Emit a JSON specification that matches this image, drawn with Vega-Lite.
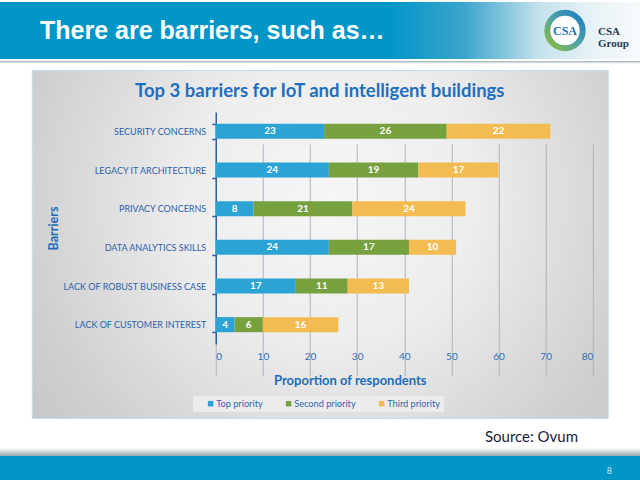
{
  "$schema": "https://vega.github.io/schema/vega-lite/v6.json",
  "padding": 0,
  "background": "#ffffff",
  "spacing": 0,
  "center": true,
  "config": {"view": {"stroke": null}, "concat": {"spacing": 0}, "font": "Lato"},
  "vconcat": [
    {
      "spacing": 0,
      "bounds": "flush",
      "hconcat": [
        {
          "width": 540,
          "height": 57,
          "view": {"stroke": null, "fill": {"gradient": "linear", "x1": 0, "y1": 0, "x2": 1, "y2": 0, "stops": [{"offset": 0, "color": "#0096c8"}, {"offset": 0.72, "color": "#0096c8"}, {"offset": 0.86, "color": "#3ba5cd"}, {"offset": 1, "color": "#c5e2ec"}]}},
          "title": {"text": "There are barriers, such as…", "anchor": "start", "frame": "group", "orient": "bottom", "offset": -20, "baseline": "alphabetic", "dx": 40, "font": "Liberation Sans", "fontSize": 25, "fontWeight": "bold", "color": "#ffffff"},
          "data": {"values": []},
          "mark": "text",
          "encoding": {}
        },
        {
          "width": 50,
          "height": 57,
          "view": {"stroke": null, "fill": {"gradient": "linear", "x1": 0, "y1": 0, "x2": 1, "y2": 0, "stops": [{"offset": 0, "color": "#c5e2ec"}, {"offset": 1, "color": "#e6f1f5"}]}},
          "data": {"values": [{"logo": "CSA"}]},
          "layer": [
            {"mark": {"type": "point", "shape": "circle", "filled": true, "fill": "#ffffff", "size": 1250, "strokeWidth": 6, "opacity": 1, "stroke": {"gradient": "linear", "x1": 0, "y1": 1, "x2": 1, "y2": 0, "stops": [{"offset": 0, "color": "#8dbb3c"}, {"offset": 0.5, "color": "#4fa3a8"}, {"offset": 1, "color": "#1c7fc0"}]}}, "encoding": {}},
            {"mark": {"type": "text", "fontSize": 12, "fontWeight": "bold", "color": "#1c6fb5", "font": "Liberation Sans Narrow"}, "encoding": {"text": {"field": "logo"}}}
          ]
        },
        {
          "width": 50,
          "height": 57,
          "view": {"stroke": null, "fill": {"gradient": "linear", "x1": 0, "y1": 0, "x2": 1, "y2": 0, "stops": [{"offset": 0, "color": "#e6f1f5"}, {"offset": 1, "color": "#f7fafb"}]}},
          "title": {"text": "CSA", "subtitle": "Group", "anchor": "start", "frame": "group", "orient": "bottom", "offset": -24, "baseline": "alphabetic", "dx": 8, "font": "Liberation Sans Narrow", "fontSize": 11, "fontWeight": "bold", "color": "#2b3a4a", "subtitleFont": "Liberation Sans Narrow", "subtitleFontSize": 11, "subtitleFontWeight": "bold", "subtitleColor": "#2b3a4a", "subtitlePadding": 1},
          "data": {"values": []},
          "mark": "text",
          "encoding": {}
        }
      ]
    },
    {
      "width": 640,
      "height": 4,
      "view": {"stroke": null, "fill": {"gradient": "linear", "x1": 0, "y1": 0, "x2": 0, "y2": 1, "stops": [{"offset": 0, "color": "#9fb0ba"}, {"offset": 0.7, "color": "#ffffff"}, {"offset": 1, "color": "#ffffff"}]}},
      "data": {"values": []},
      "mark": "text",
      "encoding": {}
    },
    {
      "width": 576,
      "height": 348,
      "view": {"stroke": "#c5dbee", "strokeWidth": 1, "fill": {"gradient": "radial", "x1": 0.52, "y1": 0.42, "r1": 0, "x2": 0.52, "y2": 0.42, "r2": 0.72, "stops": [{"offset": 0, "color": "#f6f6f6"}, {"offset": 0.35, "color": "#ededed"}, {"offset": 0.75, "color": "#cfcfcf"}, {"offset": 1, "color": "#c2c2c2"}]}},
      "title": {"text": "Top 3 barriers  for IoT and intelligent buildings", "anchor": "middle", "frame": "group", "orient": "bottom", "offset": -321, "baseline": "alphabetic", "font": "Lato", "fontSize": 18.5, "fontWeight": "bold", "color": "#1f6fc0"},
      "data": {
        "values": [
          {"barrier": "SECURITY CONCERNS", "priority": "Top priority", "rank": 1, "value": 23},
          {"barrier": "SECURITY CONCERNS", "priority": "Second priority", "rank": 2, "value": 26},
          {"barrier": "SECURITY CONCERNS", "priority": "Third priority", "rank": 3, "value": 22},
          {"barrier": "LEGACY IT ARCHITECTURE", "priority": "Top priority", "rank": 1, "value": 24},
          {"barrier": "LEGACY IT ARCHITECTURE", "priority": "Second priority", "rank": 2, "value": 19},
          {"barrier": "LEGACY IT ARCHITECTURE", "priority": "Third priority", "rank": 3, "value": 17},
          {"barrier": "PRIVACY CONCERNS", "priority": "Top priority", "rank": 1, "value": 8},
          {"barrier": "PRIVACY CONCERNS", "priority": "Second priority", "rank": 2, "value": 21},
          {"barrier": "PRIVACY CONCERNS", "priority": "Third priority", "rank": 3, "value": 24},
          {"barrier": "DATA ANALYTICS SKILLS", "priority": "Top priority", "rank": 1, "value": 24},
          {"barrier": "DATA ANALYTICS SKILLS", "priority": "Second priority", "rank": 2, "value": 17},
          {"barrier": "DATA ANALYTICS SKILLS", "priority": "Third priority", "rank": 3, "value": 10},
          {"barrier": "LACK OF ROBUST BUSINESS CASE", "priority": "Top priority", "rank": 1, "value": 17},
          {"barrier": "LACK OF ROBUST BUSINESS CASE", "priority": "Second priority", "rank": 2, "value": 11},
          {"barrier": "LACK OF ROBUST BUSINESS CASE", "priority": "Third priority", "rank": 3, "value": 13},
          {"barrier": "LACK OF CUSTOMER INTEREST", "priority": "Top priority", "rank": 1, "value": 4},
          {"barrier": "LACK OF CUSTOMER INTEREST", "priority": "Second priority", "rank": 2, "value": 6},
          {"barrier": "LACK OF CUSTOMER INTEREST", "priority": "Third priority", "rank": 3, "value": 16}
        ]
      },
      "transform": [
        {"stack": "value", "groupby": ["barrier"], "sort": [{"field": "rank", "order": "ascending"}], "as": ["v0", "v1"]},
        {"calculate": "(datum.v0 + datum.v1) / 2", "as": "mid"}
      ],
      "encoding": {
        "y": {
          "field": "barrier",
          "type": "nominal",
          "sort": ["SECURITY CONCERNS", "LEGACY IT ARCHITECTURE", "PRIVACY CONCERNS", "DATA ANALYTICS SKILLS", "LACK OF ROBUST BUSINESS CASE", "LACK OF CUSTOMER INTEREST"],
          "scale": {"range": [42, 274], "paddingInner": 0.61, "paddingOuter": 0.305},
          "axis": {
            "title": "Barriers",
            "offset": -184,
            "tickBand": "extent",
            "grid": false,
            "domainColor": "#2c62a5",
            "domainWidth": 1.5,
            "tickColor": "#2c62a5",
            "tickWidth": 1.5,
            "tickSize": 4,
            "labelFont": "Lato",
            "labelFontSize": 9,
            "labelColor": "#2a62ab",
            "labelPadding": 6,
            "titleFont": "Lato",
            "titleFontSize": 12.5,
            "titleFontWeight": "bold",
            "titleColor": "#1f6cb7",
            "titlePadding": 2
          }
        }
      },
      "layer": [
        {
          "mark": {"type": "bar"},
          "encoding": {
            "x": {
              "field": "v0",
              "type": "quantitative",
              "scale": {"domain": [0, 80], "range": [184, 561], "nice": false, "zero": true},
              "axis": {
                "title": "Proportion of respondents",
                "offset": -74,
                "values": [0, 10, 20, 30, 40, 50, 60, 70, 80],
                "domain": false,
                "ticks": false,
                "grid": true,
                "gridColor": "#aab4c0",
                "gridWidth": 1,
                "labelFont": "Lato",
                "labelFontSize": 10,
                "labelColor": "#2f6db6",
                "labelPadding": 7,
                "titleFont": "Lato",
                "titleFontSize": 13,
                "titleFontWeight": "bold",
                "titleColor": "#1f6cb7",
                "titlePadding": 13,
                "titleX": 318
              }
            },
            "x2": {"field": "v1"},
            "color": {
              "field": "priority",
              "type": "nominal",
              "scale": {"domain": ["Top priority", "Second priority", "Third priority"], "range": ["#2ba3d4", "#77a13f", "#f3bc52"]},
              "legend": {
                "title": null,
                "orient": "none",
                "legendX": 193,
                "legendY": 394,
                "direction": "horizontal",
                "symbolType": "square",
                "symbolSize": 30,
                "symbolStrokeWidth": 0,
                "symbolOffset": 10,
                "labelFont": "Lato",
                "labelFontSize": 9.2,
                "labelColor": "#2d66ae",
                "columnPadding": 11,
                "labelOffset": 1,
                "fillColor": "#ececec",
                "padding": 3
              }
            }
          }
        },
        {
          "mark": {"type": "text", "color": "#ffffff", "fontWeight": "bold", "fontSize": 10, "font": "Lato"},
          "encoding": {
            "x": {"field": "mid", "type": "quantitative"},
            "text": {"field": "value", "type": "quantitative"}
          }
        }
      ]
    },
    {
      "width": 640,
      "height": 37,
      "view": {"stroke": null, "fill": {"gradient": "linear", "x1": 0, "y1": 0, "x2": 0, "y2": 1, "stops": [{"offset": 0, "color": "#ffffff"}, {"offset": 0.78, "color": "#ffffff"}, {"offset": 1, "color": "#9aa8b0"}]}},
      "title": {"text": "Source: Ovum", "anchor": "end", "frame": "group", "orient": "bottom", "offset": -14, "baseline": "alphabetic", "dx": -62, "font": "Lato", "fontSize": 15, "fontWeight": "normal", "color": "#1b1b3a"},
      "data": {"values": []},
      "mark": "text",
      "encoding": {}
    },
    {
      "width": 640,
      "height": 27,
      "view": {"stroke": null, "fill": "#0096c8"},
      "title": {"text": "8", "anchor": "end", "frame": "group", "orient": "bottom", "offset": -9, "baseline": "alphabetic", "dx": -28, "font": "Lato", "fontSize": 9, "fontWeight": "normal", "color": "#cfe6f2"},
      "data": {"values": []},
      "mark": "text",
      "encoding": {}
    }
  ]
}
